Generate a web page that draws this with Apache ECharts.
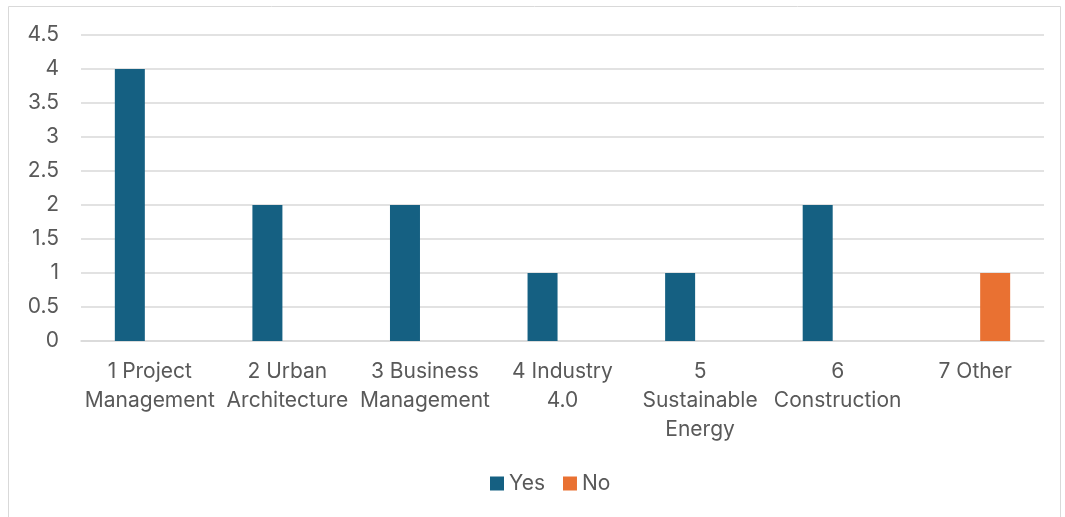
<!DOCTYPE html>
<html lang="en">
<head>
    <meta charset="UTF-8">
    <title>Chart</title>
    <script src="https://cdn.jsdelivr.net/npm/echarts@6/dist/echarts.min.js"></script>
    <style>
        html, body { margin: 0; padding: 0; background: #fff; }
        #chart1 { width: 1065px; height: 517px; }
    </style>
</head>
<body>
<div id="chart1"></div>
<script>
    // data
    var categories = ['1 Project\nManagement', '2 Urban\nArchitecture', '3 Business\nManagement',
        '4 Industry\n4.0', '5\nSustainable\nEnergy', '6\nConstruction', '7 Other'];
    var yesValues = [4, 2, 2, 1, 1, 2, 0];
    var noValues = [0, 0, 0, 0, 0, 0, 1];
    var seriesNames = ['Yes', 'No'];

    var font = 'Inter, "Open Sans", sans-serif';
    var myChart1 = echarts.init(document.getElementById('chart1'));

    myChart1.setOption({
        animation: false,
        graphic: [{
            type: 'rect',
            shape: { x: 8.5, y: 6.5, width: 1052, height: 530 },
            style: { fill: 'none', stroke: '#d9d9d9', lineWidth: 1 }
        }],
        grid: { left: 81, right: 21, top: 35, bottom: 176 },
        legend: {
            data: seriesNames,
            bottom: 18,
            left: 485,
            icon: 'rect',
            itemWidth: 14,
            itemHeight: 14,
            itemGap: 18,
            textStyle: { color: '#595959', fontSize: 21, fontFamily: font }
        },
        xAxis: {
            type: 'category',
            data: categories,
            axisLine: { lineStyle: { color: '#d9d9d9', width: 1.5 } },
            axisTick: { show: false },
            axisLabel: {
                interval: 0,
                color: '#595959',
                fontSize: 21,
                fontFamily: font,
                lineHeight: 29,
                margin: 16
            }
        },
        yAxis: {
            type: 'value',
            min: 0,
            max: 4.5,
            interval: 0.5,
            axisLine: { show: false },
            axisTick: { show: false },
            splitLine: { lineStyle: { color: '#d9d9d9', width: 1.5 } },
            axisLabel: { color: '#595959', fontSize: 21, fontFamily: font, margin: 22 }
        },
        series: [{
            name: seriesNames[0],
            type: 'bar',
            data: yesValues,
            barWidth: 30,
            barGap: '33%',
            itemStyle: { color: '#156082' }
        }, {
            name: seriesNames[1],
            type: 'bar',
            data: noValues,
            barWidth: 30,
            itemStyle: { color: '#E97132' }
        }]
    });
</script>
</body>
</html>
